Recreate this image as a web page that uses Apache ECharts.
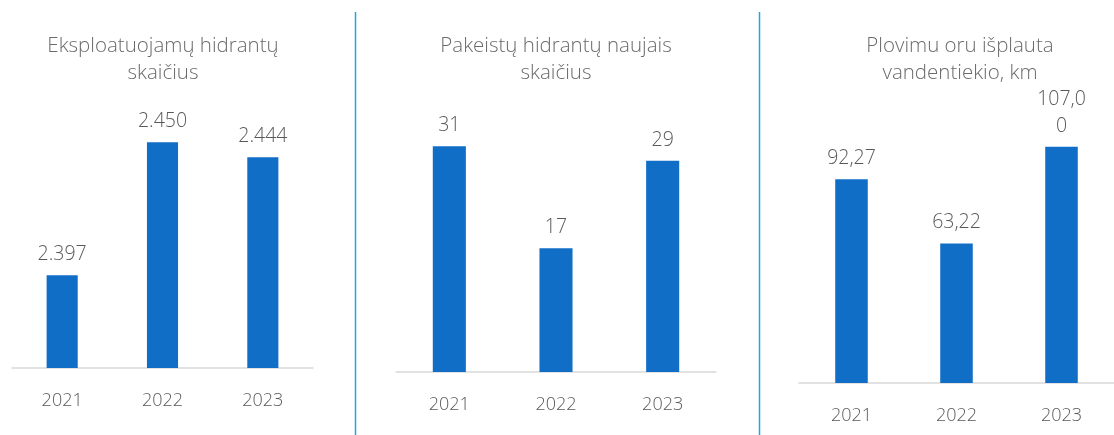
<!DOCTYPE html>
<html>
<head>
<meta charset="utf-8">
<script src="https://cdn.jsdelivr.net/npm/echarts@6/dist/echarts.min.js"></script>
<style>
  html, body { margin: 0; padding: 0; background: #fff; }
  #chart { width: 1114px; height: 435px; }
</style>
</head>
<body>
<div id="chart"></div>
<script>
// duomenys
var years = ['2021', '2022', '2023']
var titles = ['Eksploatuojamų hidrantų\nskaičius', 'Pakeistų hidrantų naujais\nskaičius', 'Plovimu oru išplauta\nvandentiekio, km']
var hydrantsInUse = [2397, 2450, 2444]
var hydrantsReplaced = [31, 17, 29]
var flushedKm = [92.27, 63.22, 107.0]

var FONT = '"Open Sans", sans-serif'
var BLUE = '#106ec6'

// lietuviškas skaičių formatas
function fmtThousands(v) {
  return String(v).replace(/\B(?=(\d{3})+(?!\d))/g, '.')
}
function fmtDecimal(v) {
  var s = v.toFixed(2).replace('.', ',')
  // ilgesnis tekstas lūžta kaip originale
  return s.length > 5 ? s.slice(0, 5) + '\n' + s.slice(5) : s
}

var grids = [
  { left: 12, width: 301, top: 92, bottom: 67 },
  { left: 396, width: 320, top: 117, bottom: 63 },
  { left: 799, width: 322, top: 118, bottom: 52 }
]
var yRanges = [[2360, 2470], [0, 35], [0, 120]]
var titleX = [163, 556, 960]
var seriesData = [hydrantsInUse, hydrantsReplaced, flushedKm]
var formatters = [fmtThousands, String, fmtDecimal]

var option = {
  animation: false,
  textStyle: { fontFamily: FONT },
  title: titles.map(function (t, i) {
    return {
      text: t,
      left: titleX[i],
      top: 33,
      padding: 0,
      textAlign: 'center',
      textStyle: { fontFamily: FONT, fontSize: 20.5, fontWeight: 300, lineHeight: 27, color: '#6b6b6b' }
    }
  }),
  grid: grids,
  xAxis: grids.map(function (g, i) {
    return {
      type: 'category',
      gridIndex: i,
      data: years,
      axisTick: { show: false },
      axisLine: { lineStyle: { color: '#d9d9d9', width: 1.5 } },
      axisLabel: { margin: 24, fontSize: 18, fontFamily: FONT, fontWeight: 300, color: '#595959' }
    }
  }),
  yAxis: grids.map(function (g, i) {
    return {
      type: 'value',
      gridIndex: i,
      min: yRanges[i][0],
      max: yRanges[i][1],
      show: false,
      splitLine: { show: false }
    }
  }),
  series: seriesData.map(function (d, i) {
    return {
      type: 'bar',
      xAxisIndex: i,
      yAxisIndex: i,
      data: d,
      barWidth: '31%',
      itemStyle: { color: BLUE },
      label: {
        show: true,
        position: 'top',
        distance: 7,
        fontSize: 19.5,
        lineHeight: 27,
        fontFamily: FONT,
        fontWeight: 300,
        color: '#595959',
        formatter: function (p) { return formatters[i](p.value) }
      }
    }
  }),
  graphic: [
    { type: 'line', shape: { x1: 355.5, y1: 12, x2: 355.5, y2: 435 }, style: { stroke: '#1fa6e6', lineWidth: 1.5 } },
    { type: 'line', shape: { x1: 759.5, y1: 12, x2: 759.5, y2: 435 }, style: { stroke: '#1fa6e6', lineWidth: 1.5 } }
  ]
}

var myChart = echarts.init(document.getElementById('chart'))
myChart.setOption(option)
</script>
</body>
</html>
